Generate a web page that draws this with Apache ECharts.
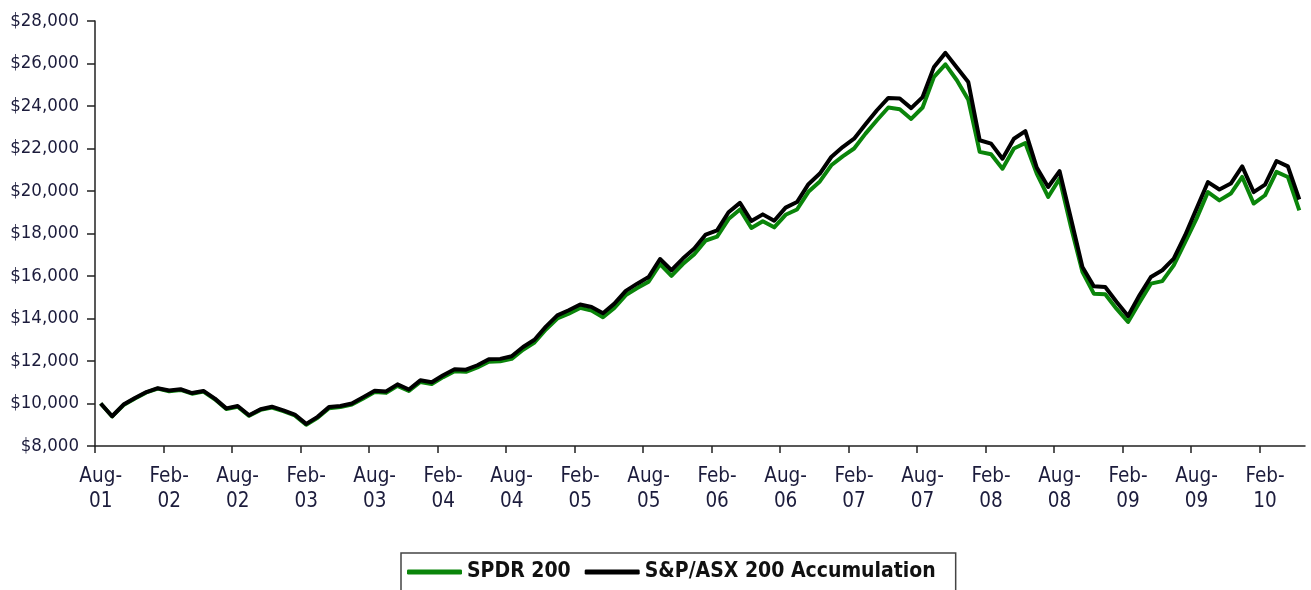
<!DOCTYPE html>
<html>
<head>
<meta charset="utf-8">
<script src="https://cdn.jsdelivr.net/npm/echarts@6/dist/echarts.min.js"></script>
<style>
  html, body { margin: 0; padding: 0; background: #fff; }
  #chart { width: 1311px; height: 590px; }
</style>
</head>
<body>
<div id="chart"></div>
<script>
// Monthly, Aug-01 .. May-10 (106 months)
const startYear = 2001, startMonth = 7; // August (0-based)
const monthNames = ['Jan','Feb','Mar','Apr','May','Jun','Jul','Aug','Sep','Oct','Nov','Dec'];

const tickLabels = ['Aug-\n01','Feb-\n02','Aug-\n02','Feb-\n03','Aug-\n03','Feb-\n04','Aug-\n04','Feb-\n05','Aug-\n05',
  'Feb-\n06','Aug-\n06','Feb-\n07','Aug-\n07','Feb-\n08','Aug-\n08','Feb-\n09','Aug-\n09','Feb-\n10'];

const yTicks = [8000, 10000, 12000, 14000, 16000, 18000, 20000, 22000, 24000, 26000, 28000];

const spdr200 = [
  10000, 9390, 9930, 10240, 10520, 10700, 10580, 10640, 10460, 10560,
  10200, 9740, 9850, 9420, 9700, 9810, 9640, 9440, 9000, 9330,
  9780, 9830, 9950, 10240, 10540, 10500, 10830, 10590, 11010, 10920,
  11240, 11520, 11490, 11700, 11970, 11990, 12100, 12530, 12870, 13480,
  14000, 14230, 14500, 14370, 14060, 14500, 15100, 15430, 15730, 16560,
  16010, 16560, 17020, 17670, 17850, 18680, 19130, 18260, 18580, 18290,
  18880, 19130, 19960, 20450, 21210, 21630, 22000, 22700, 23330, 23930,
  23850, 23390, 23930, 25370, 25960, 25210, 24300, 21840, 21730, 21050,
  22000, 22260, 20820, 19720, 20580, 18300, 16200, 15170, 15140, 14450,
  13840, 14750, 15640, 15760, 16500, 17600, 18700, 19950, 19560, 19880,
  20660, 19410, 19800, 20900, 20660, 19090
];

const asx200Acc = [
  10000, 9400, 9950, 10260, 10540, 10720, 10610, 10670, 10490, 10590,
  10230, 9770, 9880, 9450, 9730, 9850, 9680, 9480, 9040, 9370,
  9830, 9880, 10000, 10300, 10600, 10570, 10900, 10660, 11090, 11000,
  11330, 11610, 11590, 11800, 12080, 12100, 12220, 12660, 13000, 13620,
  14150, 14390, 14660, 14540, 14250, 14700, 15300, 15640, 15950, 16800,
  16270, 16820, 17290, 17950, 18150, 19000, 19440, 18590, 18900, 18600,
  19220, 19480, 20320, 20820, 21600, 22070, 22460, 23140, 23800, 24380,
  24350, 23900, 24420, 25840, 26500, 25810, 25130, 22390, 22230, 21520,
  22460, 22820, 21100, 20190, 20930, 18700, 16420, 15520, 15480, 14780,
  14120, 15090, 15950, 16270, 16820, 17920, 19170, 20420, 20070, 20350,
  21160, 19950, 20300, 21410, 21160, 19600
];

const months = spdr200.map((_, i) => {
  const m = startMonth + i;
  const y = startYear + Math.floor(m / 12);
  return monthNames[m % 12] + '-' + String(y % 100).padStart(2, '0');
});

const axisFont = '"DejaVu Sans Condensed", "DejaVu Sans", sans-serif';
const tickValues = tickLabels.map((_, k) => k * 6);
const labelValues = tickLabels.map((_, k) => k * 6 + 0.5);

const chart = echarts.init(document.getElementById('chart'), null, { renderer: 'canvas' });
chart.setOption({
  animation: false,
  backgroundColor: '#ffffff',
  grid: { left: 95, right: 6, top: 21, bottom: 144, containLabel: false },
  xAxis: {
    type: 'value',
    min: 0,
    max: spdr200.length,
    interval: 6,
    axisLine: { show: true, onZero: false, lineStyle: { color: '#222', width: 1.5 } },
    axisTick: { show: true, length: 7, inside: false, customValues: tickValues, lineStyle: { color: '#222', width: 1.5 } },
    splitLine: { show: false },
    axisLabel: {
      customValues: labelValues,
      color: '#1c1c3c',
      fontFamily: axisFont,
      fontSize: 20.5,
      lineHeight: 25,
      margin: 18,
      hideOverlap: false,
      formatter: v => {
        const k = Math.floor(v / 6);
        return (k >= 0 && k < tickLabels.length) ? tickLabels[k] : '';
      }
    }
  },
  yAxis: {
    type: 'value',
    min: 8000,
    max: 28000,
    interval: 2000,
    axisLine: { show: true, lineStyle: { color: '#222', width: 1.5 } },
    axisTick: { show: true, length: 8, inside: false, lineStyle: { color: '#222', width: 1.5 } },
    splitLine: { show: false },
    axisLabel: {
      color: '#1c1c3c',
      fontFamily: axisFont,
      fontSize: 18.5,
      margin: 16,
      formatter: v => '$' + v.toLocaleString('en-US')
    }
  },
  tooltip: {
    trigger: 'axis',
    formatter: p => months[Math.floor(p[0].value[0])] + '<br>' + p.map(s => s.seriesName + ': $' + s.value[1].toLocaleString('en-US')).join('<br>')
  },
  legend: {
    show: true,
    left: 401,
    top: 553,
    orient: 'horizontal',
    padding: [8, 20, 20, 6],
    borderColor: '#444',
    borderWidth: 1.5,
    itemWidth: 55,
    itemHeight: 5,
    itemGap: 14,
    textStyle: {
      fontFamily: axisFont,
      fontWeight: 'bold',
      fontSize: 21,
      lineHeight: 22,
      color: '#111'
    },
    data: [
      { name: 'SPDR 200', icon: 'roundRect' },
      { name: 'S&P/ASX 200 Accumulation', icon: 'roundRect' }
    ]
  },
  series: [
    {
      name: 'SPDR 200',
      type: 'line',
      data: spdr200.map((v, i) => [i + 0.5, v]),
      showSymbol: false,
      symbol: 'none',
      color: '#0a850a',
      lineStyle: { color: '#0a850a', width: 4, join: 'round' },
      z: 2
    },
    {
      name: 'S&P/ASX 200 Accumulation',
      type: 'line',
      data: asx200Acc.map((v, i) => [i + 0.5, v]),
      showSymbol: false,
      symbol: 'none',
      color: '#000000',
      lineStyle: { color: '#000000', width: 4, join: 'round' },
      z: 3
    }
  ]
});
</script>
</body>
</html>
